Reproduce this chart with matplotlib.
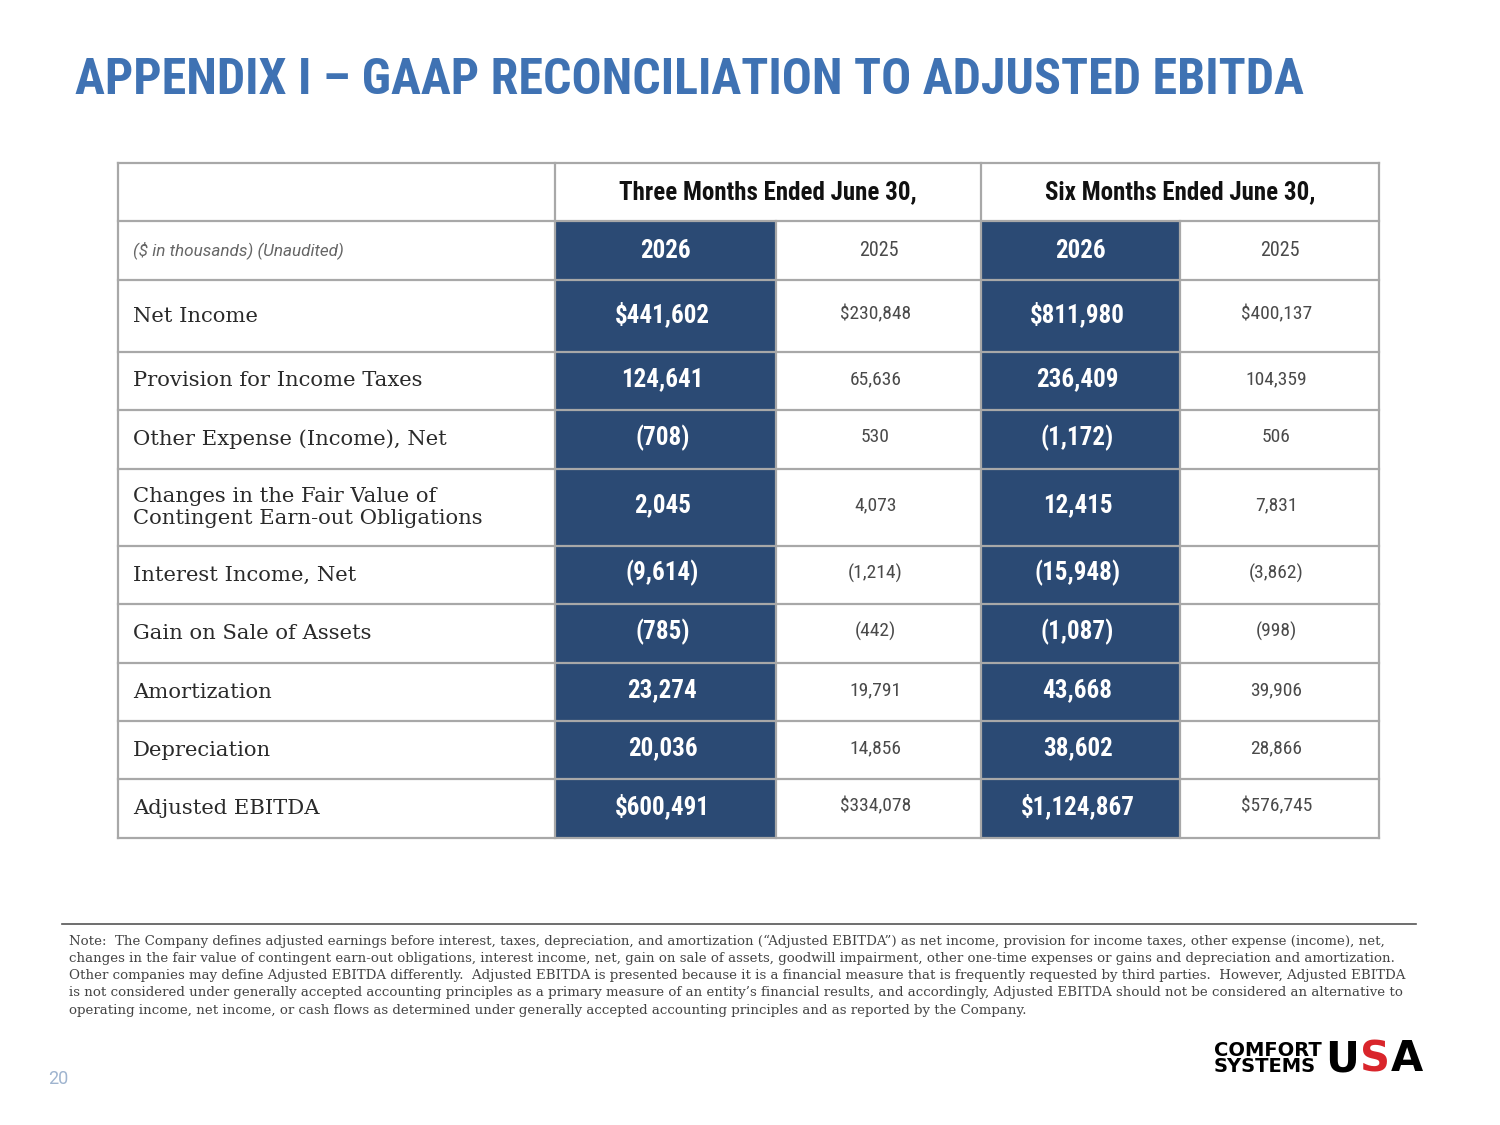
import matplotlib
matplotlib.use("Agg")
import matplotlib.pyplot as plt
from matplotlib import font_manager

# -----------------------------
# DATA
# -----------------------------
title = "APPENDIX I \u2013 GAAP RECONCILIATION TO ADJUSTED EBITDA"
period_headers = ["Three Months Ended June 30,", "Six Months Ended June 30,"]
year_labels = ["2026", "2025", "2026", "2025"]
unit_note = "($ in thousands) (Unaudited)"

row_labels = [
    "Net Income",
    "Provision for Income Taxes",
    "Other Expense (Income), Net",
    "Changes in the Fair Value of\nContingent Earn-out Obligations",
    "Interest Income, Net",
    "Gain on Sale of Assets",
    "Amortization",
    "Depreciation",
    "Adjusted EBITDA",
]
q_2026 = ["$441,602", "124,641", "(708)", "2,045", "(9,614)", "(785)", "23,274", "20,036", "$600,491"]
q_2025 = ["$230,848", "65,636", "530", "4,073", "(1,214)", "(442)", "19,791", "14,856", "$334,078"]
s_2026 = ["$811,980", "236,409", "(1,172)", "12,415", "(15,948)", "(1,087)", "43,668", "38,602", "$1,124,867"]
s_2025 = ["$400,137", "104,359", "506", "7,831", "(3,862)", "(998)", "39,906", "28,866", "$576,745"]

note_lines = [
    "Note:  The Company defines adjusted earnings before interest, taxes, depreciation, and amortization (\u201cAdjusted EBITDA\u201d) as net income, provision for income taxes, other expense (income), net,",
    "changes in the fair value of contingent earn-out obligations, interest income, net, gain on sale of assets, goodwill impairment, other one-time expenses or gains and depreciation and amortization.",
    "Other companies may define Adjusted EBITDA differently.  Adjusted EBITDA is presented because it is a financial measure that is frequently requested by third parties.  However, Adjusted EBITDA",
    "is not considered under generally accepted accounting principles as a primary measure of an entity\u2019s financial results, and accordingly, Adjusted EBITDA should not be considered an alternative to",
    "operating income, net income, or cash flows as determined under generally accepted accounting principles and as reported by the Company.",
]
page_number = "20"
logo_words = ["COMFORT\nSYSTEMS", "U", "S", "A"]

# -----------------------------
# LAYOUT (pixel coords)
# -----------------------------
col_edges = [118, 555, 776, 981, 1180, 1379]
row_edges = [163, 221, 280, 352, 410, 469, 546, 604, 663, 721, 779, 838]

BLUE_TITLE = "#3f72b3"
NAVY = "#2b4a74"
GRID = "#a8a8a8"
TXT = "#2a2a2a"
LIGHT = "#4a4a4a"


def pick_font(names):
    avail = {f.name for f in font_manager.fontManager.ttflist}
    for n in names:
        if n in avail:
            return n
    return "DejaVu Sans"


COND = pick_font(["Roboto Condensed", "Liberation Sans Narrow", "Roboto", "DejaVu Sans"])
SLAB = pick_font(["Roboto Slab", "DejaVu Serif", "Liberation Serif"])
SANS = pick_font(["Roboto", "Open Sans", "DejaVu Sans"])

fig = plt.figure(figsize=(15, 11.25), dpi=100)
ax = fig.add_axes([0, 0, 1, 1])
ax.set_xlim(0, 1500)
ax.set_ylim(1125, 0)
ax.axis("off")

# title
ax.text(75, 80, title, fontsize=36, fontweight="bold", color=BLUE_TITLE,
        family=COND, va="center", ha="left")

# dark columns for 2026
for c in (1, 3):
    ax.fill_between([col_edges[c], col_edges[c + 1]], row_edges[1], row_edges[-1],
                    color=NAVY, lw=0, zorder=1)

# grid lines
for y in row_edges:
    ax.plot([col_edges[0], col_edges[-1]], [y, y], color=GRID, lw=1.6, zorder=2)
for i, x in enumerate(col_edges):
    y0 = row_edges[0] if i in (0, 1, 3, 5) else row_edges[1]
    ax.plot([x, x], [y0, row_edges[-1]], color=GRID, lw=1.6, zorder=2)

# header row
for k, h in enumerate(period_headers):
    xa, xb = col_edges[1 + 2 * k], col_edges[3 + 2 * k]
    ax.text((xa + xb) / 2, (row_edges[0] + row_edges[1]) / 2, h, fontsize=18,
            fontweight="bold", color="#111111", family=COND, ha="center", va="center", zorder=3)

# year row
ymid = (row_edges[1] + row_edges[2]) / 2
ax.text(133, ymid, unit_note, fontsize=12.3, style="italic", color="#666666",
        family=SANS, ha="left", va="center", zorder=3)
for c, yl in enumerate(year_labels):
    xm = (col_edges[c + 1] + col_edges[c + 2]) / 2
    dark = c in (0, 2)
    ax.text(xm, ymid, yl, fontsize=18 if dark else 14.5, fontweight="bold" if dark else "normal",
            color="white" if dark else LIGHT, family=COND, ha="center", va="center", zorder=3)

# body rows
cols = [q_2026, q_2025, s_2026, s_2025]
for r, lab in enumerate(row_labels):
    ya, yb = row_edges[r + 2], row_edges[r + 3]
    ym = (ya + yb) / 2
    ax.text(133, ym, lab, fontsize=15.2, color=TXT, family=SLAB, ha="left", va="center",
            linespacing=1.15, zorder=3)
    for c, vals in enumerate(cols):
        xm = (col_edges[c + 1] + col_edges[c + 2]) / 2
        dark = c in (0, 2)
        ax.text(xm - 3, ym - 2, vals[r], fontsize=18 if dark else 14,
                fontweight="bold" if dark else "normal",
                color="white" if dark else LIGHT, family=COND,
                ha="center", va="center", zorder=3)

# note
ax.plot([62, 1416], [924, 924], color="#555555", lw=1.2)
for i, line in enumerate(note_lines):
    ax.text(69, 941 + i * 17.3, line, fontsize=9.6, color="#444444", family=SLAB,
            ha="left", va="center")

# page number
ax.text(48, 1079, page_number, fontsize=13, color="#9fb4cf", family=SANS, ha="left", va="center")

# logo: place pieces side by side using measured widths
fig.canvas.draw()
renderer = fig.canvas.get_renderer()
logo_colors = ["black", "black", "#d9252b", "black"]
logo_sizes = [14, 30, 30, 30]
x = 1214
for word, col, fs in zip(logo_words, logo_colors, logo_sizes):
    t = ax.text(x, 1059, word, fontsize=fs, fontweight="black", color=col,
                family="DejaVu Sans", ha="left", va="center", linespacing=0.8)
    bb = t.get_window_extent(renderer=renderer)
    x += bb.width + (1 if fs > 20 else 3)

fig.savefig("out.png", dpi=100, facecolor="white")
